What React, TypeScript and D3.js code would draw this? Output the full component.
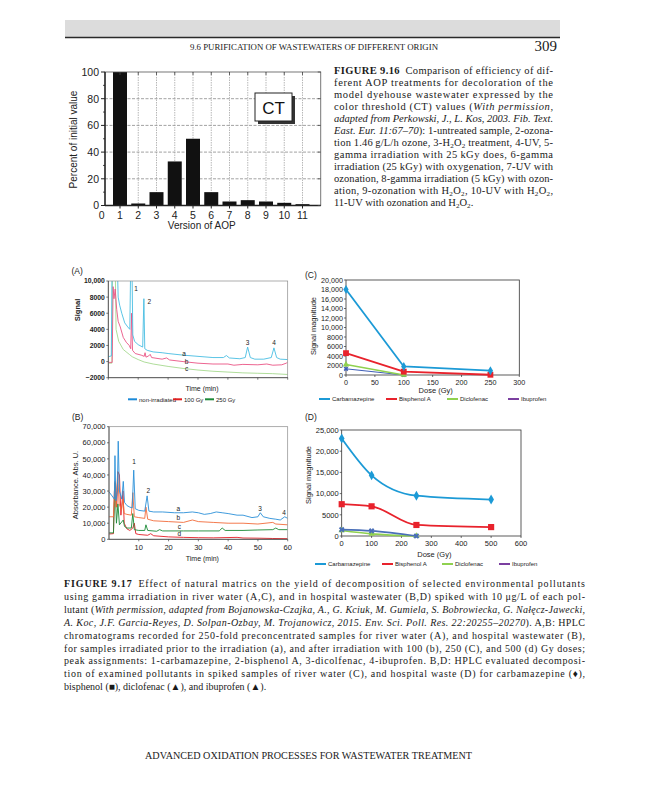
import React from "react";
import * as d3 from "d3";

type Pt = [number, number];
type Seg = [string, string];

// ---------------- Figure 9.16 (bar chart) ----------------
const aopVersions = [1, 2, 3, 4, 5, 6, 7, 8, 9, 10, 11];
const aopPercent = [100, 1.5, 10, 33, 50, 10, 3, 4, 3, 2, 1];
const aopXTicks = [0, 1, 2, 3, 4, 5, 6, 7, 8, 9, 10, 11];
const aopYTicks = [0, 20, 40, 60, 80, 100];
const aopYMinor = [10, 30, 50, 70, 90];

// ---------------- Panel A chromatograms: [time (min), signal] ----------------
const chromA_nonIrr: Pt[] = [[0,600],[1.0,700],[1.25,11000],[1.4,12500],[3.0,12500],[3.3,8000],[3.8,7000],[4.5,6000],[5.5,4800],[6.5,4300],[7.2,4000],[7.5,12500],[7.9,12500],[8.2,3300],[8.8,2500],[10,2100],[11.5,1800],[11.9,7800],[12.2,1600],[13,1400],[15,1200],[18,1100],[20,1000],[25,800],[30,650],[35,500],[38.5,500],[39.5,750],[40.5,450],[44,350],[45.8,500],[46.6,1800],[47.5,500],[49,300],[52,300],[54.5,500],[55.4,1700],[56.3,500],[57.5,300],[60,250]];
const chromA_100: Pt[] = [[0,-100],[1.3,-100],[1.6,9300],[1.9,7800],[2.3,9000],[2.8,6500],[3.3,5000],[4,4300],[5,3000],[6,2400],[7,2000],[7.5,1600],[7.8,6000],[8.1,1400],[9,1000],[11,800],[12,650],[12.3,1100],[12.6,550],[13.5,700],[14,900],[14.5,500],[18,300],[19.5,450],[20.5,200],[25,0],[30,-200],[35,-300],[40,-300],[42,-450],[45,-350],[50,-400],[53,-300],[55,-450],[58,-400],[59.5,-200],[60,-50]];
const chromA_250: Pt[] = [[0,-200],[1.2,-200],[1.4,12500],[2.3,12500],[2.6,4000],[3.5,2500],[5,1500],[7,900],[8,600],[10,250],[12,-50],[15,-300],[20,-600],[25,-850],[30,-1050],[35,-1200],[40,-1300],[45,-1400],[50,-1450],[55,-1500],[60,-1600]];
const chromAYTicks = [-2000, 0, 2000, 4000, 6000, 8000, 10000];
const chromAXTicks = [0, 10, 20, 30, 40, 50, 60];
const chromALabels: [string, number, number][] = [["1",9.3,9100],["2",13.7,7400],["3",46.6,2400],["4",55.4,2400],["a",25.3,1000],["b",26.2,0],["c",26.2,-830]];
const doseLegendA = ["non-irradiated", "100 Gy", "250 Gy"];

// ---------------- Panel B chromatograms ----------------
const chromB_a: Pt[] = [[0,29500],[1,27000],[1.8,25000],[2.0,52000],[2.3,24000],[2.8,30000],[3.1,61000],[3.5,30000],[4.3,25000],[4.8,36000],[5.2,23000],[6,21000],[7,20000],[7.8,19500],[8.3,43000],[8.8,19000],[10,18000],[12,17500],[12.8,27000],[13.4,17500],[15,17000],[18,17000],[22,16500],[25,16500],[28,17000],[30,16500],[32,15500],[34,16000],[36,17000],[38,16500],[40,16000],[43,15000],[45,15000],[48,13500],[50,14000],[50.8,16500],[51.8,14000],[54,13000],[56,12500],[57.5,12000],[59,14000],[60,13000]];
const chromB_b: Pt[] = [[0,14000],[1.5,14000],[2.0,36000],[2.4,20000],[2.9,42000],[3.4,22000],[4.2,18000],[4.7,25000],[5.1,16000],[6,15500],[7.5,15000],[8.0,29000],[8.5,14000],[10,13500],[12,13000],[12.4,20000],[13,12500],[15,11500],[20,11000],[25,10500],[28,12000],[30,11000],[35,10500],[40,10000],[45,10000],[50,9500],[55,10500],[56,9500],[60,9000]];
const chromB_c: Pt[] = [[0,4000],[1.5,4000],[2.0,35000],[2.5,10000],[3.0,22000],[3.5,9000],[4.8,12000],[5.2,8000],[6,7000],[7.5,7000],[8.0,16000],[8.5,6000],[10,5500],[12,5500],[12.4,9000],[13,5500],[16,5000],[17,6000],[18,5200],[25,5200],[30,5200],[37,5200],[38,7000],[39,5500],[45,5500],[50,5800],[55,6000],[56,7000],[57,6000],[60,6000]];
const chromB_d: Pt[] = [[0,3300],[1.5,3500],[1.8,30000],[2.2,35000],[2.6,20000],[3.0,42000],[3.5,40000],[4.0,15000],[4.7,30000],[5.1,10000],[6,6500],[7,5500],[8.0,7000],[8.5,10000],[9.0,3500],[10,3000],[13,2500],[14,3500],[15,2200],[20,1500],[25,1200],[30,1000],[35,900],[43,1200],[45,800],[50,700],[55,500],[60,400]];
const chromBYTicks = [0, 10000, 20000, 30000, 40000, 50000, 60000, 70000];
const chromBXTicks = [10, 20, 30, 40, 50, 60];
const chromBLabels: [string, number, number][] = [["1",8.4,48200],["2",13.2,30200],["3",50.7,18800],["4",58.8,16800],["a",23.3,18800],["b",23.3,13700],["c",23.6,7800],["d",23.6,3300]];

// ---------------- Panel C (river water) ----------------
const doseC = [0, 100, 250];
const carbC = [18000, 1800, 900];
const bispC = [4600, 700, 50];
const doseC2 = [0, 100];
const diclC = [2200, 0];
const ibuC = [1300, 0];
const cXTicks = [0, 50, 100, 150, 200, 250, 300];
const cYTicks = [0, 2000, 4000, 6000, 8000, 10000, 12000, 14000, 16000, 18000, 20000];

// ---------------- Panel D (hospital wastewater) ----------------
const doseD = [0, 100, 250, 500];
const carbD = [23000, 14300, 9500, 8600];
const bispD = [7500, 7000, 2600, 2100];
const doseD2 = [0, 100, 250];
const diclD = [1300, 500, 0];
const ibuD = [1500, 1200, 0];
const dXTicks = [0, 100, 200, 300, 400, 500, 600];
const dYTicks = [0, 5000, 10000, 15000, 20000, 25000];

const compounds = ["Carbamazepine", "Bisphenol A", "Diclofenac", "Ibuprofen"];

// ---------------- Captions ----------------
const headerTitle = "9.6 PURIFICATION OF WASTEWATERS OF DIFFERENT ORIGIN";
const pageNumber = "309";
const footerTitle = "ADVANCED OXIDATION PROCESSES FOR WASTEWATER TREATMENT";

const fig916Lines: Seg[][] = [
  [["b", "FIGURE 9.16"], ["", "\u2002Comparison of efficiency of dif-"]],
  [["", "ferent AOP treatments for decoloration of the"]],
  [["", "model dyehouse wastewater expressed by the"]],
  [["", "color threshold (CT) values ("], ["i", "With permission,"]],
  [["i", "adapted from Perkowski, J., L. Kos, 2003. Fib. Text."]],
  [["i", "East. Eur. 11:67\u201370"], ["", "): 1-untreated sample, 2-ozona-"]],
  [["", "tion 1.46\u2009g/L/h ozone, 3-H"], ["sub", "2"], ["", "O"], ["sub", "2"], ["", " treatment, 4-UV, 5-"]],
  [["", "gamma irradiation with 25\u2009kGy does, 6-gamma"]],
  [["", "irradiation (25 kGy) with oxygenation, 7-UV with"]],
  [["", "ozonation, 8-gamma irradiation (5 kGy) with ozon-"]],
  [["", "ation, 9-ozonation with H"], ["sub", "2"], ["", "O"], ["sub", "2"], ["", ", 10-UV with H"], ["sub", "2"], ["", "O"], ["sub", "2"], ["", ","]],
  [["", "11-UV with ozonation and H"], ["sub", "2"], ["", "O"], ["sub", "2"], ["", "."]],
];

const fig917Lines: Seg[][] = [
  [["b", "FIGURE 9.17"], ["", "\u2002Effect of natural matrics on the yield of decomposition of selected environmental pollutants"]],
  [["", "using gamma irradiation in river water (A,C), and in hospital wastewater (B,D) spiked with 10\u2009\u03bcg/L of each pol-"]],
  [["", "lutant ("], ["i", "With permission, adapted from Bojanowska-Czajka, A., G. Kciuk, M. Gumiela, S. Bobrowiecka, G. Na\u0142\u0119cz-Jawecki,"]],
  [["i", "A. Koc, J.F. Garcia-Reyes, D. Solpan-Ozbay, M. Trojanowicz, 2015. Env. Sci. Poll. Res. 22:20255\u201320270"], ["", "). A,B: HPLC"]],
  [["", "chromatograms recorded for 250-fold preconcentrated samples for river water (A), and hospital wastewater (B),"]],
  [["", "for samples irradiated prior to the irradiation (a), and after irradiation with 100 (b), 250 (C), and 500 (d) Gy doses;"]],
  [["", "peak assignments: 1-carbamazepine, 2-bisphenol A, 3-dicolfenac, 4-ibuprofen. B,D: HPLC evaluated decomposi-"]],
  [["", "tion of examined pollutants in spiked samples of river water (C), and hospital waste (D) for carbamazepine (\u2666),"]],
  [["", "bisphenol (\u25a0), diclofenac (\u25b2), and ibuprofen (\u25b2)."]],
];

// ---------------- styling ----------------
const serif = "'Liberation Serif','Times New Roman',serif";
const sans = "'Liberation Sans',Arial,Helvetica,sans-serif";
const ink = "#1a1a1a";

function fmt(v: number): string {
  if (Math.abs(v) >= 10000) return d3.format(",")(v);
  return v < 0 ? "\u2212" + Math.abs(v) : String(v);
}

function Rich({ x, y, segs, width, size }: { x: number; y: number; segs: Seg[]; width?: number; size: number }) {
  return (
    <text x={x} y={y} fontFamily={serif} fontSize={size} fill={ink}
      textLength={width} lengthAdjust={width ? "spacing" : undefined}>
      {segs.map(([s, t], i) => (
        <tspan key={i}
          fontWeight={s === "b" ? 700 : undefined}
          fontStyle={s === "i" ? "italic" : undefined}
          baselineShift={s === "sub" ? "-25%" : undefined}
          fontSize={s === "sub" ? size * 0.68 : undefined}>{t}</tspan>
      ))}
    </text>
  );
}

function BarChart() {
  const x = d3.scaleLinear().domain([0, 12]).range([101.75, 320.75]);
  const y = d3.scaleLinear().domain([0, 100]).range([205.5, 72]);
  const left = 105, right = x(12), top = y(100), bottom = y(0);
  const bw = 14;
  return (
    <g fontFamily={sans}>
      {[20, 40, 60, 80].map((v) => (
        <line key={"h" + v} x1={left} x2={right} y1={y(v)} y2={y(v)} stroke="#8a8a8a" strokeWidth={0.8} strokeDasharray="3,1.5" />
      ))}
      {aopVersions.map((v) => (
        <line key={"v" + v} x1={x(v)} x2={x(v)} y1={top} y2={bottom} stroke="#9a9a9a" strokeWidth={0.7} strokeDasharray="1.5,1" />
      ))}
      {aopVersions.map((v, i) => (
        <rect key={"b" + v} x={x(v) - bw / 2} y={y(aopPercent[i])} width={bw} height={bottom - y(aopPercent[i])} fill="#111" />
      ))}
      <rect x={left} y={top} width={right - left} height={bottom - top} fill="none" stroke="#555" strokeWidth={0.8} />
      <line x1={left} x2={left} y1={top} y2={bottom} stroke="#222" strokeWidth={1.4} />
      <line x1={left} x2={right} y1={bottom} y2={bottom} stroke="#222" strokeWidth={1.4} />
      {aopYTicks.map((v) => (
        <g key={"yt" + v}>
          <line x1={left - 4} x2={left} y1={y(v)} y2={y(v)} stroke="#222" strokeWidth={1} />
          <line x1={right - 3} x2={right} y1={y(v)} y2={y(v)} stroke="#444" strokeWidth={0.8} />
          <text x={left - 6} y={y(v) + 3.8} fontSize={10.5} textAnchor="end" fill="#222">{v}</text>
        </g>
      ))}
      {aopYMinor.map((v) => (
        <line key={"ym" + v} x1={left - 2} x2={left} y1={y(v)} y2={y(v)} stroke="#222" strokeWidth={0.8} />
      ))}
      {aopXTicks.map((v) => (
        <g key={"xt" + v}>
          {x(v) >= left && <line x1={x(v)} x2={x(v)} y1={bottom} y2={bottom + 3} stroke="#222" strokeWidth={1} />}
          {x(v) >= left && <line x1={x(v)} x2={x(v)} y1={top} y2={top + 3} stroke="#444" strokeWidth={0.8} />}
          <text x={x(v)} y={bottom + 13} fontSize={10.5} textAnchor="middle" fill="#222">{v}</text>
        </g>
      ))}
      <text x={x(5.48)} y={229} fontSize={10} textAnchor="middle" fill="#222">Version of AOP</text>
      <text transform={`translate(77,139.5) rotate(-90)`} fontSize={10} textAnchor="middle" fill="#222">Percent of initial value</text>
      <rect x={258} y={96} width={37} height={28} fill="#333" />
      <rect x={255} y={93} width={37} height={28} fill="#fff" stroke="#222" strokeWidth={1} />
      <text x={273.5} y={113.5} fontSize={17} textAnchor="middle" fill="#111">CT</text>
    </g>
  );
}

function Chromatogram(props: {
  id: string; tag: string; tagX: number; tagY: number;
  xr: [number, number]; yr: [number, number]; yDomain: [number, number];
  yTicks: number[]; xTicks: number[]; showXLabels: boolean;
  series: { data: Pt[]; color: string }[];
  labels: [string, number, number][];
  yTitle: string; yTitleX: number; yTitleY: number; titleBold: boolean;
  tickSize: number; tickBold: boolean; xTitleY: number;
}) {
  const p = props;
  const x = d3.scaleLinear().domain([0, 60]).range(p.xr);
  const y = d3.scaleLinear().domain(p.yDomain).range(p.yr);
  const line = d3.line<Pt>().x((d) => x(d[0])).y((d) => y(d[1]));
  const [l, r] = p.xr;
  const [b, t] = p.yr;
  return (
    <g fontFamily={sans}>
      <defs>
        <clipPath id={p.id}><rect x={l} y={t} width={r - l} height={b - t} /></clipPath>
      </defs>
      <text x={p.tagX} y={p.tagY} fontSize={8.5} fill="#222">{p.tag}</text>
      <g clipPath={`url(#${p.id})`}>
        {p.series.map((s, i) => (
          <path key={i} d={line(s.data) || ""} fill="none" stroke={s.color} strokeWidth={0.9} strokeLinejoin="round" />
        ))}
      </g>
      <rect x={l} y={t} width={r - l} height={b - t} fill="none" stroke="#8a8a8a" strokeWidth={0.7} />
      <line x1={l} x2={l} y1={t} y2={b} stroke="#444" strokeWidth={0.8} />
      <line x1={l} x2={r} y1={b} y2={b} stroke="#444" strokeWidth={0.8} />
      {p.yTicks.map((v) => (
        <g key={"y" + v}>
          <line x1={l - 2} x2={l} y1={y(v)} y2={y(v)} stroke="#444" strokeWidth={0.7} />
          <text x={l - 3.5} y={y(v) + p.tickSize * 0.36} fontSize={p.tickSize} fontWeight={p.tickBold ? 700 : 400} textAnchor="end" fill="#222">{fmt(v)}</text>
        </g>
      ))}
      {p.xTicks.map((v) => (
        <g key={"x" + v}>
          <line x1={x(v)} x2={x(v)} y1={b} y2={b + 2} stroke="#444" strokeWidth={0.7} />
          {p.showXLabels && <text x={x(v)} y={b + 10.5} fontSize={p.tickSize} textAnchor="middle" fill="#222">{v}</text>}
        </g>
      ))}
      {p.labels.map(([s, tv, vv]) => (
        <text key={s} x={x(tv)} y={y(vv)} dy="0.35em" fontSize={6.5} textAnchor="middle" fill="#222">{s}</text>
      ))}
      <text x={(l + r) / 2 + 4} y={p.xTitleY} fontSize={7} textAnchor="middle" fill="#222">Time (min)</text>
      <text transform={`translate(${p.yTitleX},${p.yTitleY}) rotate(-90)`} fontSize={7.5} fontWeight={p.titleBold ? 700 : 400} textAnchor="middle" fill="#222">{p.yTitle}</text>
    </g>
  );
}

type DoseSeries = { xs: number[]; ys: number[]; color: string; width: number; sym: d3.SymbolType; size: number; rot?: number };

function DosePanel(props: {
  id: string; tag: string; tagX: number; tagY: number;
  xr: [number, number]; yr: [number, number]; xDomain: [number, number]; yDomain: [number, number];
  xTicks: number[]; yTicks: number[]; series: DoseSeries[]; smooth: boolean;
  yTitleX: number; yTitleY: number; xTitleY: number; tickSize: number;
  legendY: number; legendXs: number[];
}) {
  const p = props;
  const x = d3.scaleLinear().domain(p.xDomain).range(p.xr);
  const y = d3.scaleLinear().domain(p.yDomain).range(p.yr);
  const [l, r] = p.xr;
  const [b, t] = p.yr;
  const legendColors = ["#1c9ad6", "#e8222c", "#8fd14f", "#7b3fa0"];
  return (
    <g fontFamily={sans}>
      <text x={p.tagX} y={p.tagY} fontSize={8.5} fill="#222">{p.tag}</text>
      <rect x={l} y={t} width={r - l} height={b - t} fill="none" stroke="#333" strokeWidth={0.8} />
      {p.yTicks.map((v) => (
        <g key={"y" + v}>
          <line x1={l - 2} x2={l} y1={y(v)} y2={y(v)} stroke="#333" strokeWidth={0.7} />
          <text x={l - 3} y={y(v) + p.tickSize * 0.36} fontSize={p.tickSize} textAnchor="end" fill="#222">{fmt(v)}</text>
        </g>
      ))}
      {p.xTicks.map((v) => (
        <g key={"x" + v}>
          <line x1={x(v)} x2={x(v)} y1={b} y2={b + 2} stroke="#333" strokeWidth={0.7} />
          <text x={x(v)} y={b + 10} fontSize={p.tickSize} textAnchor="middle" fill="#222">{v}</text>
        </g>
      ))}
      {p.series.map((s, i) => {
        const pts: Pt[] = s.xs.map((xv, k) => [xv, s.ys[k]]);
        const ln = d3.line<Pt>().x((d) => x(d[0])).y((d) => y(d[1])).curve(p.smooth ? d3.curveMonotoneX : d3.curveLinear);
        const sym = d3.symbol().type(s.sym).size(s.size)();
        return (
          <g key={i}>
            <path d={ln(pts) || ""} fill="none" stroke={s.color} strokeWidth={s.width} strokeLinejoin="round" />
            {pts.map((d, k) => (
              <path key={k} d={sym || ""} transform={`translate(${x(d[0])},${y(d[1])}) rotate(${s.rot || 0})`} fill={s.color} />
            ))}
          </g>
        );
      })}
      <text x={(l + r) / 2 + 3} y={p.xTitleY} fontSize={7.5} textAnchor="middle" fill="#222">Dose (Gy)</text>
      <text transform={`translate(${p.yTitleX},${p.yTitleY}) rotate(-90)`} fontSize={7.5} textAnchor="middle" fill="#222">Signal magnitude</text>
      {compounds.map((c, i) => (
        <g key={c}>
          <line x1={p.legendXs[i]} x2={p.legendXs[i] + 11} y1={p.legendY} y2={p.legendY} stroke={legendColors[i]} strokeWidth={2} />
          <text x={p.legendXs[i] + 13} y={p.legendY + 2.2} fontSize={6} fill="#222">{c}</text>
        </g>
      ))}
    </g>
  );
}

export default function App() {
  const cSeries: DoseSeries[] = [
    { xs: doseC2, ys: ibuC, color: "#3f5fb8", width: 1, sym: d3.symbolCross, size: 14, rot: 45 },
    { xs: doseC2, ys: diclC, color: "#8fd14f", width: 1.6, sym: d3.symbolTriangle, size: 18 },
    { xs: doseC, ys: bispC, color: "#e8222c", width: 1.8, sym: d3.symbolSquare, size: 34 },
    { xs: doseC, ys: carbC, color: "#1c9ad6", width: 1.8, sym: d3.symbolDiamond, size: 24 },
  ];
  const dSeries: DoseSeries[] = [
    { xs: doseD2, ys: diclD, color: "#8fd14f", width: 1.6, sym: d3.symbolTriangle, size: 18 },
    { xs: doseD2, ys: ibuD, color: "#4a6fb8", width: 1.6, sym: d3.symbolCross, size: 20, rot: 45 },
    { xs: doseD, ys: bispD, color: "#e8222c", width: 1.8, sym: d3.symbolSquare, size: 38 },
    { xs: doseD, ys: carbD, color: "#1c9ad6", width: 1.8, sym: d3.symbolDiamond, size: 28 },
  ];
  const legA = [
    { x: 128, color: "#1c8ad8" },
    { x: 173, color: "#e02020" },
    { x: 205, color: "#1f8a3a" },
  ];
  return (
    <svg width={648} height={800} viewBox="0 0 648 800" style={{ position: "absolute", left: 0, top: 0, background: "#fff" }}>
      <rect x={0} y={0} width={648} height={800} fill="#fff" />
      {/* page header */}
      <rect x={65} y={20} width={495} height={17} fill="#dcdcdc" />
      <line x1={65} x2={560} y1={37.5} y2={37.5} stroke="#2a2a2a" strokeWidth={1.3} />
      <text x={190} y={50} fontFamily={serif} fontSize={8.5} fill={ink} textLength={248} lengthAdjust="spacingAndGlyphs">{headerTitle}</text>
      <text x={557} y={51} fontFamily={serif} fontSize={15} fill={ink} textAnchor="end">{pageNumber}</text>

      {/* Figure 9.16 */}
      <BarChart />
      {fig916Lines.map((segs, i) => (
        <Rich key={i} x={334} y={74 + i * 12} segs={segs} size={10.5} width={i < fig916Lines.length - 1 ? 219 : undefined} />
      ))}

      {/* Figure 9.17 panels */}
      <Chromatogram id="clipA" tag="(A)" tagX={71.5} tagY={274}
        xr={[108.3, 287.7]} yr={[377.7, 281]} yDomain={[-2000, 10000]}
        yTicks={chromAYTicks} xTicks={chromAXTicks} showXLabels={false}
        series={[{ data: chromA_250, color: "#a6d98e" }, { data: chromA_100, color: "#ea5485" }, { data: chromA_nonIrr, color: "#47bde2" }]}
        labels={chromALabels} yTitle="Signal" yTitleX={79.5} yTitleY={310} titleBold={true}
        tickSize={6.8} tickBold={true} xTitleY={390.5} />
      {doseLegendA.map((s, i) => (
        <g key={s} fontFamily={sans}>
          <line x1={legA[i].x} x2={legA[i].x + 9} y1={399.3} y2={399.3} stroke={legA[i].color} strokeWidth={2} />
          <text x={legA[i].x + 11} y={401.5} fontSize={6} fill="#222">{s}</text>
        </g>
      ))}

      <Chromatogram id="clipB" tag="(B)" tagX={72} tagY={420}
        xr={[109, 287.7]} yr={[539.3, 426.7]} yDomain={[0, 70000]}
        yTicks={chromBYTicks} xTicks={chromBXTicks} showXLabels={true}
        series={[{ data: chromB_d, color: "#e41e26" }, { data: chromB_c, color: "#1b8a35" }, { data: chromB_b, color: "#f26b3a" }, { data: chromB_a, color: "#2a90d8" }]}
        labels={chromBLabels} yTitle="Absorbance. Abs. U." yTitleX={77.5} yTitleY={485} titleBold={false}
        tickSize={7.5} tickBold={false} xTitleY={560.5} />

      <DosePanel id="C" tag="(C)" tagX={305} tagY={278}
        xr={[346, 519.3]} yr={[375, 280]} xDomain={[0, 300]} yDomain={[0, 20000]}
        xTicks={cXTicks} yTicks={cYTicks} series={cSeries} smooth={false}
        yTitleX={315.5} yTitleY={326} xTitleY={392.5} tickSize={7.2}
        legendY={399} legendXs={[319, 386, 447, 508]} />

      <DosePanel id="D" tag="(D)" tagX={305} tagY={420}
        xr={[341.7, 521]} yr={[536, 430]} xDomain={[0, 600]} yDomain={[0, 25000]}
        xTicks={dXTicks} yTicks={dYTicks} series={dSeries} smooth={true}
        yTitleX={310.5} yTitleY={475} xTitleY={557} tickSize={7.5}
        legendY={564} legendXs={[315, 382, 442, 499]} />

      {fig917Lines.map((segs, i) => (
        <Rich key={i} x={64} y={587 + i * 12.9} segs={segs} size={10} width={i < fig917Lines.length - 1 ? 521 : undefined} />
      ))}

      <text x={145} y={759} fontFamily={serif} fontSize={9.5} fill={ink} textLength={327} lengthAdjust="spacingAndGlyphs">{footerTitle}</text>
    </svg>
  );
}
